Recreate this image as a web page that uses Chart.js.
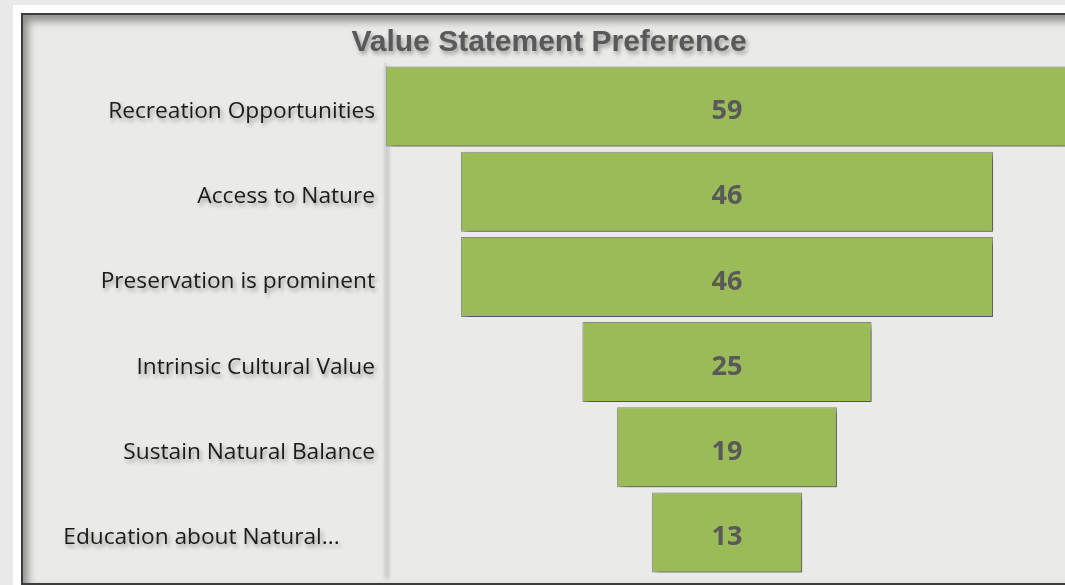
<!DOCTYPE html>
<html>
<head>
<meta charset="utf-8">
<script src="https://cdn.jsdelivr.net/npm/chart.js@4.4.1/dist/chart.umd.min.js"></script>
<style>
  html, body { margin: 0; padding: 0; background: #e9e9e9; overflow: hidden; }
  #sheet { position: absolute; left: 13px; top: 5px; width: 1100px; height: 600px; background: #ffffff; }
  #frame {
    position: absolute; left: 21px; top: 13px; width: 1052px; height: 568px;
    border: 2px solid #3c3c3c; background: #eaeae8;
    box-shadow: inset 5px 6px 9px rgba(0, 0, 0, 0.4);
  }
  #frame canvas { position: absolute; left: 0; top: 0; }
</style>
</head>
<body>
<div id="sheet"></div>
<div id="frame"><canvas id="funnelChart" width="1052" height="568"></canvas></div>
<script>
// funnel chart - value statement preference
const CATEGORIES = [
    'Recreation Opportunities',
    'Access to Nature',
    'Preservation is prominent',
    'Intrinsic Cultural Value',
    'Sustain Natural Balance',
    'Education about Natural...'
];
const VOTES = [59, 46, 46, 25, 19, 13];

const BAR_COLOR = '#9bbb59';
const LABEL_COLOR = '#595959';

// each bar floats around zero so the stack looks like a funnel
const funnelRanges = VOTES.map(v => [-v / 2, v / 2]);

const shadowPlugin = {
    id: 'shadows',
    beforeDraw(chart) {
        const ctx = chart.ctx;
        ctx.save();
        ctx.shadowColor = 'rgba(0,0,0,0.35)';
        ctx.shadowBlur = 4;
        ctx.shadowOffsetX = 2;
        ctx.shadowOffsetY = 3;
    },
    beforeDatasetsDraw(chart) {
        const ctx = chart.ctx;
        ctx.shadowColor = 'rgba(0,0,0,0.45)';
        ctx.shadowBlur = 6;
        ctx.shadowOffsetX = 4;
        ctx.shadowOffsetY = 4;
    },
    afterDatasetsDraw(chart) {
        const ctx = chart.ctx;
        ctx.shadowColor = 'rgba(0,0,0,0)';
        ctx.shadowBlur = 0;
        ctx.shadowOffsetX = 0;
        ctx.shadowOffsetY = 0;

        // value labels in the middle of each bar
        const meta = chart.getDatasetMeta(0);
        const xScale = chart.scales.x;
        ctx.font = 'bold 27px "Open Sans"';
        ctx.fillStyle = LABEL_COLOR;
        ctx.textAlign = 'center';
        ctx.textBaseline = 'middle';
        meta.data.forEach((bar, i) => {
            ctx.fillText(String(VOTES[i]), xScale.getPixelForValue(0), bar.y + 5);
        });
    },
    afterDraw(chart) {
        chart.ctx.restore();
    }
};

const ctx = document.getElementById('funnelChart').getContext('2d');

new Chart(ctx, {
    type: 'bar',
    data: {
        labels: CATEGORIES,
        datasets: [{
            label: 'Votes',
            data: funnelRanges,
            backgroundColor: BAR_COLOR,
            borderColor: 'rgba(110,110,110,0.75)',
            borderWidth: 1,
            borderSkipped: false,
            barPercentage: 0.94,
            categoryPercentage: 1
        }]
    },
    options: {
        indexAxis: 'y',
        responsive: false,
        animation: false,
        layout: {
            padding: { left: 0, right: 0, top: 0, bottom: 8 }
        },
        scales: {
            x: {
                display: false,
                min: -29.56,
                max: 30.08
            },
            y: {
                afterFit(scale) {
                    scale.width = 362;
                    scale.paddingTop = 0;
                    scale.paddingBottom = 0;
                },
                grid: { display: false, drawTicks: false },
                border: { display: true, color: '#d6d6d6', width: 2 },
                ticks: {
                    padding: 10,
                    labelOffset: 5,
                    color: '#1a1a1a',
                    font: { family: '"Open Sans"', size: 22.7 },
                    callback(value) {
                        const text = this.getLabelForValue(value);
                        // excel draws the truncated label a bit further left
                        return text.endsWith('...') ? text + '      ' : text;
                    }
                }
            }
        },
        plugins: {
            legend: { display: false },
            tooltip: { enabled: false },
            title: {
                display: true,
                text: 'Value Statement Preference',
                color: LABEL_COLOR,
                font: { family: '"Liberation Sans"', size: 30, weight: 'bold' },
                padding: { top: 10, bottom: 3 }
            }
        }
    },
    plugins: [shadowPlugin]
});
</script>
</body>
</html>
